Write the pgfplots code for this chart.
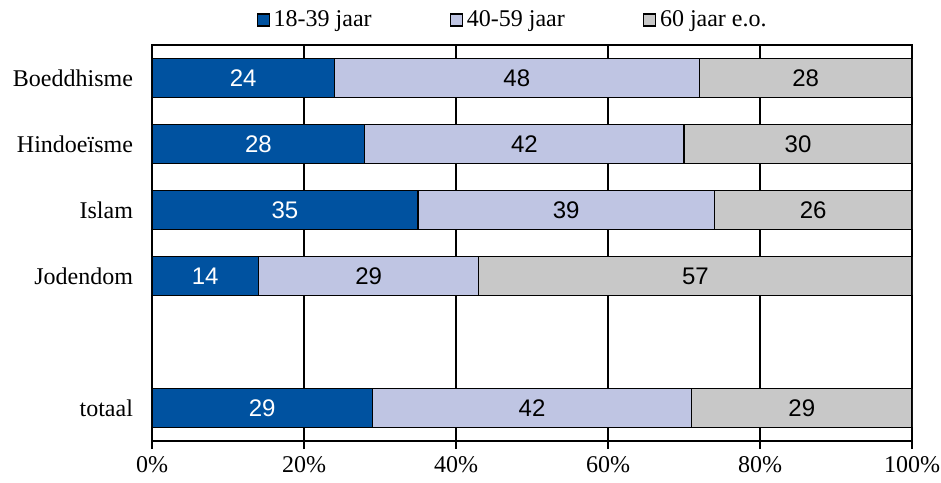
\documentclass[border=0pt]{standalone}
\usepackage{fontspec}
\setmainfont{Liberation Serif}
\newfontfamily\arial{Liberation Sans}
\usepackage{pgfplots}
\usepackage{pgfplotstable}
\pgfplotsset{compat=1.18}

\definecolor{jong}{RGB}{0,82,160}
\definecolor{midden}{RGB}{191,197,227}
\definecolor{oud}{RGB}{200,200,200}

% rij 4 blijft leeg (witregel boven totaal)
\pgfplotstableread{
y a b c
0 24 48 28
1 28 42 30
2 35 39 26
3 14 29 57
5 29 42 29
}\leeftijd

\begin{document}
\begin{tikzpicture}
\useasboundingbox (-76pt,-20.5pt) rectangle (394.5pt,220.5pt);
\pgfplotsset{
  basis/.style={
    at={(0,0)}, anchor=south west,
    scale only axis, width=380pt, height=198pt,
    xmin=0, xmax=100, ymin=-0.5, ymax=5.5, y dir=reverse,
  }
}
\begin{axis}[basis,
  xbar stacked, bar width=0.58,
  axis line style={line width=0.8pt},
  xtick={0,20,...,100},
  xticklabels={0\%,20\%,40\%,60\%,80\%,100\%},
  ytick={0,1,2,3,5},
  yticklabels={Boeddhisme,Hindoeïsme,Islam,Jodendom,totaal},
  tick label style={font=\fontsize{12}{14}\selectfont},
  xtick pos=bottom, tick align=outside, major tick length=4pt,
  x tick style={black, line width=0.7pt},
  ytick style={draw=none},
  xmajorgrids, grid style={black, line width=0.6pt},
  yticklabel style={xshift=-2pt},
  legend columns=3,
  legend style={at={(0.137,1)}, anchor=west, yshift=12.5pt, draw=none, fill=none,
    font=\fontsize{12}{14}\selectfont, inner sep=0pt, nodes={inner sep=0.5pt},
    /tikz/every odd column/.append style={column sep=1.5pt},
    /tikz/every even column/.append style={column sep=38.5pt}},
  legend image code/.code={\draw[#1, draw=black, line width=0.6pt] (0pt,-3pt) rectangle (6pt,3pt);},
  legend cell align=left,
]
\addplot[fill=jong, draw=black, line width=0.6pt] table[x=a, y=y] {\leeftijd};
\addlegendentry{18-39 jaar}
\addplot[fill=midden, draw=black, line width=0.6pt] table[x=b, y=y] {\leeftijd};
\addlegendentry{40-59 jaar}
\addplot[fill=oud, draw=black, line width=0.6pt] table[x=c, y=y] {\leeftijd};
\addlegendentry{60 jaar e.o.}
\end{axis}

% getallen midden in de segmenten
\begin{axis}[basis, hide axis]
\addplot[draw=none, mark=none, nodes near coords, point meta=explicit symbolic,
  nodes near coords style={anchor=center, font=\arial\fontsize{12}{14}\selectfont, text=white}]
  table[x expr=\thisrow{a}/2, y=y, meta=a] {\leeftijd};
\addplot[draw=none, mark=none, nodes near coords, point meta=explicit symbolic,
  nodes near coords style={anchor=center, font=\arial\fontsize{12}{14}\selectfont, text=black}]
  table[x expr=\thisrow{a}+\thisrow{b}/2, y=y, meta=b] {\leeftijd};
\addplot[draw=none, mark=none, nodes near coords, point meta=explicit symbolic,
  nodes near coords style={anchor=center, font=\arial\fontsize{12}{14}\selectfont, text=black}]
  table[x expr=\thisrow{a}+\thisrow{b}+\thisrow{c}/2, y=y, meta=c] {\leeftijd};
\end{axis}
\end{tikzpicture}
\end{document}
